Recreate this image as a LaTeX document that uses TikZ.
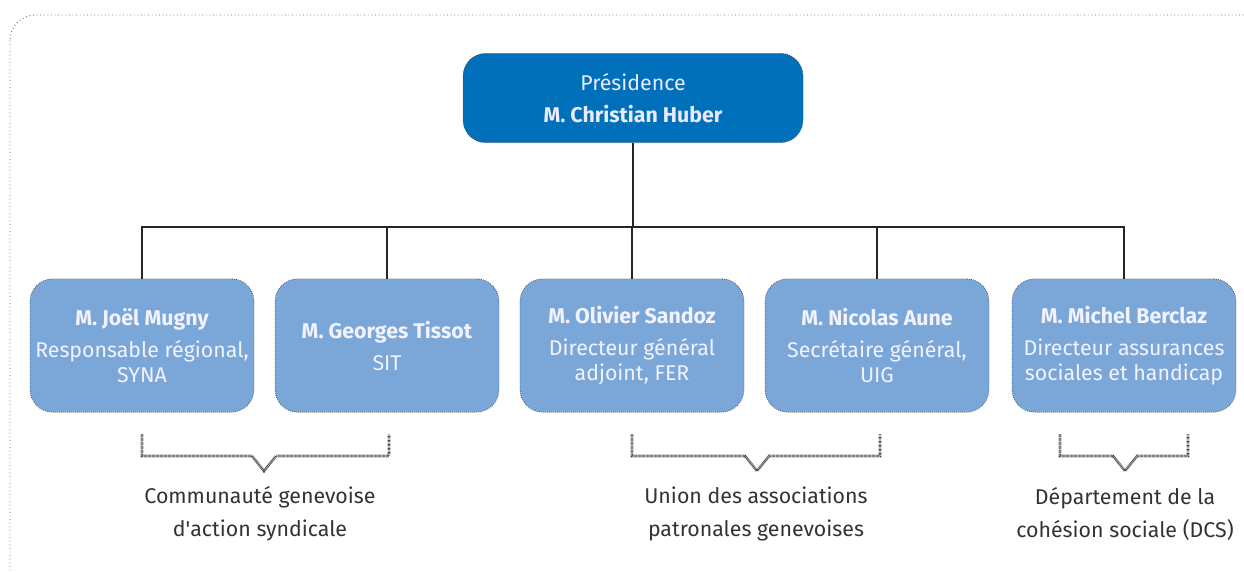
\documentclass[tikz,border=0pt]{standalone}
\usepackage{fontspec}
\setmainfont{Fira Sans}
\usetikzlibrary{calc}
\definecolor{topblue}{HTML}{0070BA}
\definecolor{lowblue}{HTML}{7BA7D8}
\definecolor{txtgray}{HTML}{333333}
\begin{document}
\begin{tikzpicture}[x=0.75pt,y=-0.75pt,
  topbox/.style={fill=topblue,draw=black!75,densely dotted,line width=0.5pt,rounded corners=17pt,minimum width=255pt,minimum height=67pt,text=white!92!blue,align=center,font=\fontsize{16}{24}\selectfont},
  lowbox/.style={fill=lowblue,draw=black!75,densely dotted,line width=0.5pt,rounded corners=17pt,minimum width=168pt,minimum height=100pt,text=white!95!blue,align=center,font=\fontsize{16}{19}\selectfont},
  link/.style={draw=black!85,line width=1.1pt},
  bracket/.style={draw=black!75,line width=2pt,dash pattern=on 0.5pt off 0.5pt},
  grouplabel/.style={text=txtgray,align=center,font=\fontsize{16}{24.5}\selectfont}]
\useasboundingbox (0,0) rectangle (1244,571);
\begin{scope}
\clip (0,0) rectangle (1244,571);
\draw[black!55,dotted,line width=0.7pt,rounded corners=19pt] (10,15) rectangle (1275,600);
\end{scope}
\node[topbox] (top) at (633,98) {Présidence\\\textbf{M. Christian Huber}};
\node[lowbox] (b1) at (142,345.5) {\textbf{M. Joël Mugny}\\[5pt]Responsable régional,\\SYNA};
\node[lowbox] (b2) at (387,345.5) {\textbf{M. Georges Tissot}\\[5pt]SIT};
\node[lowbox] (b3) at (632,345.5) {\textbf{M. Olivier Sandoz}\\[5pt]Directeur général\\adjoint, FER};
\node[lowbox] (b4) at (877,345.5) {\textbf{M. Nicolas Aune}\\[5pt]Secrétaire général,\\UIG};
\node[lowbox] (b5) at (1124,345.5) {\textbf{M. Michel Berclaz}\\[5pt]Directeur assurances\\sociales et handicap};
\coordinate (bar) at (633,227);
\draw[link] (top.south) -- (top.south|-bar);
\draw[link] (b1.north) -- (b1.north|-bar) -- (b5.north|-bar) -- (b5.north);
\foreach \n in {b2,b3,b4} \draw[link] (\n.north) -- (\n.north|-bar);
% brackets
\coordinate (g1l) at (142,434); \coordinate (g1r) at (389,434); \coordinate (g1t) at (264,471);
\coordinate (g2l) at (632,434); \coordinate (g2r) at (880,434); \coordinate (g2t) at (757,471);
\coordinate (g3l) at (1060,434); \coordinate (g3r) at (1188,434); \coordinate (g3t) at (1125,471);
\foreach \g in {g1,g2,g3} {
  \draw[bracket] (\g l) -- ++(0,22) -- ($(\g t)+(-12,-15)$) -- (\g t) -- ($(\g t)+(12,-15)$) -- ($(\g r)+(0,22)$) -- (\g r);
}
\node[grouplabel] (l1) at (260,514) {Communauté genevoise\\d\textquotesingle action syndicale};
\node[grouplabel] (l2) at (756,514) {Union des associations\\patronales genevoises};
\node[grouplabel] (l3) at (1125,514) {Département de la\\cohésion sociale (DCS)};
\end{tikzpicture}
\end{document}
